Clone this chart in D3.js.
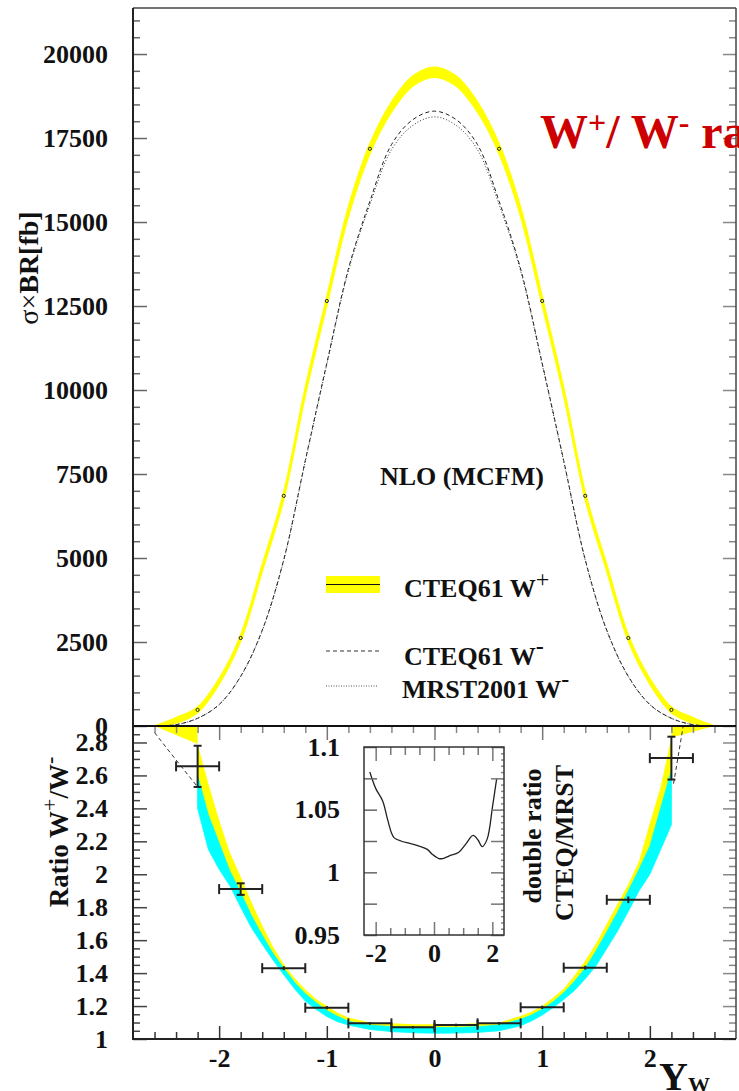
<!DOCTYPE html>
<html>
<head>
<meta charset="utf-8">
<script src="https://cdn.jsdelivr.net/npm/d3@7"></script>
<style>
body { margin: 0; background: #fff; }
text { font-family: "Liberation Serif", "Times New Roman", serif; font-weight: bold; fill: #111; }
</style>
</head>
<body>
<svg id="svg" width="739" height="1091"></svg>
<script>
// ---- top panel: d(sigma)/dy, W+ band and W- curves
const topX = [-2.6,-2.4,-2.2,-2.0,-1.8,-1.6,-1.4,-1.2,-1.0,-0.8,-0.6,-0.4,-0.2,0,0.2,0.4,0.6,0.8,1.0,1.2,1.4,1.6,1.8,2.0,2.2,2.4,2.6]
const wPlus = [0,170,480,1330,2620,4700,6850,9950,12650,15300,17180,18420,19200,19460,19200,18420,17180,15300,12650,9950,6850,4700,2620,1330,480,170,0]
const wPlusErr = [0,80,80,80,90,100,110,120,130,140,145,150,150,150,150,150,145,140,130,120,110,100,90,80,80,80,0]
const wMinusCteq = [0,40,230,640,1480,2850,4950,7900,10800,13600,15620,17300,18050,18300,18050,17300,15620,13600,10800,7900,4950,2850,1480,640,230,40,0]
const wMinusMrst = [0,40,228,636,1470,2835,4930,7870,10760,13540,15520,17150,17880,18130,17880,17150,15520,13540,10760,7870,4930,2835,1470,636,228,40,0]
const markerX = [-2.2,-1.8,-1.4,-1.0,-0.6,0.6,1.0,1.4,1.8,2.2]
const topTicks = [0,2500,5000,7500,10000,12500,15000,17500,20000]

// ---- bottom panel: W+/W- ratio bands
const ratioX = [-2.6,-2.2,-2.2,-2.1,-2.0,-1.9,-1.8,-1.7,-1.6,-1.5,-1.4,-1.3,-1.2,-1.1,-1.0,-0.9,-0.8,-0.6,-0.4,-0.2,0,0.2,0.4,0.6,0.8,0.9,1.0,1.1,1.2,1.3,1.4,1.5,1.6,1.7,1.8,1.9,2.0,2.1,2.2,2.2,2.6]
const cteqHi = [2.9,3.1,2.79,2.55,2.33,2.13,1.985,1.83,1.69,1.56,1.455,1.37,1.30,1.243,1.20,1.16,1.13,1.10,1.095,1.09,1.09,1.09,1.095,1.10,1.14,1.165,1.20,1.25,1.305,1.385,1.475,1.58,1.70,1.82,1.94,2.08,2.31,2.53,2.83,3.1,2.9]
const cteqLo = [2.9,2.79,2.5,2.28,2.14,1.99,1.86,1.72,1.61,1.505,1.41,1.33,1.255,1.20,1.156,1.125,1.098,1.073,1.062,1.056,1.053,1.053,1.058,1.068,1.10,1.125,1.165,1.21,1.26,1.32,1.40,1.49,1.60,1.715,1.84,1.97,2.085,2.29,2.5,2.83,2.9]
const mrstHi = [null,null,2.60,2.36,2.19,2.02,1.89,1.75,1.63,1.52,1.43,1.345,1.275,1.222,1.173,1.138,1.108,1.084,1.076,1.072,1.07,1.07,1.075,1.085,1.12,1.145,1.18,1.225,1.28,1.35,1.43,1.535,1.65,1.77,1.90,2.03,2.17,2.40,2.63,null,null]
const mrstLo = [null,null,2.40,2.15,2.03,1.93,1.80,1.675,1.575,1.48,1.39,1.305,1.23,1.18,1.137,1.105,1.085,1.058,1.045,1.038,1.035,1.036,1.04,1.05,1.08,1.11,1.145,1.19,1.24,1.295,1.365,1.445,1.55,1.655,1.775,1.90,2.00,2.15,2.30,null,null]
const dashLeftX = [-2.6,-2.45,-2.2]
const dashLeftY = [2.86,2.735,2.53]
const dashRightX = [2.22,2.31]
const dashRightY = [2.55,2.9]
const pointX = [-2.2,-1.8,-1.4,-1.0,-0.6,-0.2,0.2,0.6,1.0,1.4,1.8,2.2]
const pointY = [2.655,1.91,1.43,1.19,1.095,1.071,1.085,1.095,1.192,1.433,1.845,2.705]
const pointErr = [0.125,0.035,0.012,0.01,0.008,0.008,0.008,0.008,0.01,0.012,0.02,0.13]
const binHalf = 0.2
const ratioTicks = [1,1.2,1.4,1.6,1.8,2,2.2,2.4,2.6,2.8]

// ---- inset: double ratio CTEQ/MRST
const insetX = [-2.2,-2.0,-1.76,-1.59,-1.45,-1.37,-1.14,-0.8,-0.51,-0.23,-0.06,0.17,0.3,0.51,0.85,1.08,1.34,1.51,1.65,1.82,2.01,2.15]
const insetY = [1.08,1.067,1.057,1.042,1.031,1.0277,1.025,1.023,1.021,1.0183,1.0144,1.011,1.011,1.013,1.016,1.0223,1.0295,1.0258,1.0205,1.0263,1.053,1.075]
const insetYTicks = [0.95,0.975,1,1.025,1.05,1.075,1.1]
const insetYLabels = [0.95,1,1.05,1.1]
const insetXTicks = [-2,-1.5,-1,-0.5,0,0.5,1,1.5,2]
const xTicks = [-2,-1,0,1,2]

const svg = d3.select("#svg")

const x = d3.scaleLinear([-2.8, 2.8], [133, 736])
const yTop = d3.scaleLinear([0, 21370], [726, 8])
const yBot = d3.scaleLinear([1, 2.9], [1039, 726])
const xIn = d3.scaleLinear([-2.4, 2.4], [364, 504])
const yIn = d3.scaleLinear([0.95, 1.1], [935, 747])

const defs = svg.append("defs")
defs.append("clipPath").attr("id", "clipTop").append("rect").attr("x", 133).attr("y", 8).attr("width", 603).attr("height", 718)
defs.append("clipPath").attr("id", "clipBot").append("rect").attr("x", 133).attr("y", 726).attr("width", 603).attr("height", 313)

function styleAxis(g, col) {
	g.attr("font-family", "Liberation Serif, serif").attr("font-size", 26).attr("font-weight", "bold")
	g.select(".domain").remove()
	g.selectAll(".tick line").attr("stroke", col).attr("stroke-width", 1.5)
	g.selectAll(".tick text").attr("fill", "#111")
}
const fmt = d => String(d)

// ---------- top panel ----------
const topG = svg.append("g").attr("clip-path", "url(#clipTop)")
const topIdx = d3.range(topX.length)

topG.append("path")
	.attr("d", d3.area().curve(d3.curveCatmullRom)
		.x(i => x(topX[i])).y0(i => yTop(wPlus[i] - wPlusErr[i])).y1(i => yTop(wPlus[i] + wPlusErr[i]))(topIdx))
	.attr("fill", "#ffff00").attr("stroke", "#ffff00").attr("stroke-width", 1.5)

const lineTop = arr => d3.line().curve(d3.curveCatmullRom).x(i => x(topX[i])).y(i => yTop(arr[i]))(topIdx)
topG.append("path").attr("d", lineTop(wMinusCteq)).attr("fill", "none").attr("stroke", "#222").attr("stroke-width", 1).attr("stroke-dasharray", "4,3")
topG.append("path").attr("d", lineTop(wMinusMrst)).attr("fill", "none").attr("stroke", "#333").attr("stroke-width", 1).attr("stroke-dasharray", "1,2")

topG.selectAll("circle").data(markerX).join("circle")
	.attr("cx", d => x(d)).attr("cy", d => yTop(wPlus[topX.indexOf(d)]))
	.attr("r", 1.6).attr("fill", "none").attr("stroke", "#222").attr("stroke-width", 1)

// top axes
const topMinor = d3.range(500, 21370, 500).filter(v => v % 2500)
styleAxis(svg.append("g").attr("transform", "translate(133,0)")
	.call(d3.axisLeft(yTop).tickValues(topTicks).tickFormat(fmt).tickSizeInner(-14).tickSizeOuter(0).tickPadding(25)), "#666")
styleAxis(svg.append("g").attr("transform", "translate(133,0)")
	.call(d3.axisLeft(yTop).tickValues(topMinor).tickFormat("").tickSizeInner(-7).tickSizeOuter(0)), "#666")
styleAxis(svg.append("g").attr("transform", "translate(736,0)")
	.call(d3.axisRight(yTop).tickValues(topTicks).tickFormat("").tickSizeInner(-13).tickSizeOuter(0)), "#888")
styleAxis(svg.append("g").attr("transform", "translate(736,0)")
	.call(d3.axisRight(yTop).tickValues(topMinor).tickFormat("").tickSizeInner(-7).tickSizeOuter(0)), "#888")

// ---------- bottom panel ----------
const botG = svg.append("g").attr("clip-path", "url(#clipBot)")
const rIdx = d3.range(ratioX.length)
botG.append("path")
	.attr("d", d3.area().x(i => x(ratioX[i])).y0(i => yBot(cteqLo[i])).y1(i => yBot(cteqHi[i]))(rIdx))
	.attr("fill", "#ffff00")
botG.append("path")
	.attr("d", d3.area().defined(i => mrstLo[i] !== null)
		.x(i => x(ratioX[i])).y0(i => yBot(mrstLo[i])).y1(i => yBot(mrstHi[i]))(rIdx))
	.attr("fill", "#00ffff").attr("stroke", "#00ffff").attr("stroke-width", 0.8)

const dashLine = d3.line()
botG.append("path").attr("d", dashLine(dashLeftX.map((v, i) => [x(v), yBot(dashLeftY[i])])))
	.attr("fill", "none").attr("stroke", "#333").attr("stroke-width", 1).attr("stroke-dasharray", "4,3")
botG.append("path").attr("d", dashLine(dashRightX.map((v, i) => [x(v), yBot(dashRightY[i])])))
	.attr("fill", "none").attr("stroke", "#333").attr("stroke-width", 1).attr("stroke-dasharray", "4,3")

// error bars
const eb = botG.append("g").attr("stroke", "#222").attr("stroke-width", 2)
pointX.forEach((px, i) => {
	const cx = x(px), cy = yBot(pointY[i])
	const xl = x(px - binHalf), xr = x(px + binHalf)
	eb.append("line").attr("x1", xl).attr("x2", xr).attr("y1", cy).attr("y2", cy)
	eb.append("line").attr("x1", xl).attr("x2", xl).attr("y1", cy - 5).attr("y2", cy + 5)
	eb.append("line").attr("x1", xr).attr("x2", xr).attr("y1", cy - 5).attr("y2", cy + 5)
	const yu = yBot(pointY[i] + pointErr[i]), yd = yBot(pointY[i] - pointErr[i])
	eb.append("line").attr("x1", cx).attr("x2", cx).attr("y1", yu).attr("y2", yd)
	if (yd - yu > 8) {
		eb.append("line").attr("x1", cx - 4).attr("x2", cx + 4).attr("y1", yu).attr("y2", yu)
		eb.append("line").attr("x1", cx - 4).attr("x2", cx + 4).attr("y1", yd).attr("y2", yd)
	}
})

// bottom axes
const ratioMinor = d3.range(1.05, 2.9, 0.05).filter(v => Math.abs(v * 5 - Math.round(v * 5)) > 1e-6)
styleAxis(svg.append("g").attr("transform", "translate(133,0)")
	.call(d3.axisLeft(yBot).tickValues(ratioTicks).tickFormat(fmt).tickSizeInner(-14).tickSizeOuter(0).tickPadding(25)), "#444")
styleAxis(svg.append("g").attr("transform", "translate(133,0)")
	.call(d3.axisLeft(yBot).tickValues(ratioMinor).tickFormat("").tickSizeInner(-7).tickSizeOuter(0)), "#444")
styleAxis(svg.append("g").attr("transform", "translate(736,0)")
	.call(d3.axisRight(yBot).tickValues(ratioTicks).tickFormat("").tickSizeInner(-13).tickSizeOuter(0)), "#888")
styleAxis(svg.append("g").attr("transform", "translate(736,0)")
	.call(d3.axisRight(yBot).tickValues(ratioMinor).tickFormat("").tickSizeInner(-7).tickSizeOuter(0)), "#888")

const xMinor = d3.range(-2.6, 2.7, 0.2).filter(v => Math.abs(v - Math.round(v)) > 1e-6)
styleAxis(svg.append("g").attr("transform", "translate(0,1039)")
	.call(d3.axisBottom(x).tickValues(xTicks).tickFormat(fmt).tickSizeInner(-13).tickSizeOuter(0).tickPadding(9.5)), "#333")
styleAxis(svg.append("g").attr("transform", "translate(0,1039)")
	.call(d3.axisBottom(x).tickValues(xMinor).tickFormat("").tickSizeInner(-7).tickSizeOuter(0)), "#333")
styleAxis(svg.append("g").attr("transform", "translate(0,726)")
	.call(d3.axisTop(x).tickValues(xTicks).tickFormat("").tickSizeInner(-14).tickSizeOuter(0)), "#777")
styleAxis(svg.append("g").attr("transform", "translate(0,726)")
	.call(d3.axisTop(x).tickValues(xMinor).tickFormat("").tickSizeInner(-7).tickSizeOuter(0)), "#888")

// frame lines
const frame = svg.append("g")
frame.append("line").attr("x1", 133).attr("x2", 736).attr("y1", 8).attr("y2", 8).attr("stroke", "#444").attr("stroke-width", 1.5)
frame.append("line").attr("x1", 736).attr("x2", 736).attr("y1", 8).attr("y2", 1039).attr("stroke", "#444").attr("stroke-width", 1.5)
frame.append("line").attr("x1", 133).attr("x2", 133).attr("y1", 8).attr("y2", 1040).attr("stroke", "#222").attr("stroke-width", 2)
frame.append("line").attr("x1", 133).attr("x2", 736).attr("y1", 726).attr("y2", 726).attr("stroke", "#111").attr("stroke-width", 1.8)
frame.append("line").attr("x1", 132).attr("x2", 736).attr("y1", 1039).attr("y2", 1039).attr("stroke", "#222").attr("stroke-width", 2)

// ---------- inset ----------
const inset = svg.append("g")
inset.append("rect").attr("x", 364).attr("y", 747).attr("width", 140).attr("height", 188).attr("fill", "#fff")
inset.append("path")
	.attr("d", d3.line().curve(d3.curveCatmullRom).x(d => xIn(d)).y((d, i) => yIn(insetY[i]))(insetX))
	.attr("fill", "none").attr("stroke", "#222").attr("stroke-width", 1.3)
styleAxis(inset.append("g").attr("transform", "translate(364,0)")
	.call(d3.axisLeft(yIn).tickValues(insetYTicks).tickFormat(d => insetYLabels.includes(d) ? String(d) : "").tickSizeInner(-13).tickSizeOuter(0).tickPadding(24)), "#666")
styleAxis(inset.append("g").attr("transform", "translate(504,0)")
	.call(d3.axisRight(yIn).tickValues(insetYTicks).tickFormat("").tickSizeInner(-13).tickSizeOuter(0)), "#777")
styleAxis(inset.append("g").attr("transform", "translate(504,0)")
	.call(d3.axisRight(yIn).tickValues(d3.range(0.955, 1.1, 0.005)).tickFormat("").tickSizeInner(-3).tickSizeOuter(0)), "#888")
const inMajor = d => Math.abs(d) === 2 || d === 0
const inB = inset.append("g").attr("transform", "translate(0,935)")
	.call(d3.axisBottom(xIn).tickValues(insetXTicks).tickFormat(d => inMajor(d) ? String(d) : "").tickSizeInner(-7).tickSizeOuter(0).tickPadding(8.5))
styleAxis(inB, "#777")
inB.selectAll(".tick line").attr("y2", d => inMajor(d) ? -13 : -7)
const inT = inset.append("g").attr("transform", "translate(0,747)")
	.call(d3.axisTop(xIn).tickValues(insetXTicks).tickFormat("").tickSizeInner(-8).tickSizeOuter(0))
styleAxis(inT, "#777")
inT.selectAll(".tick line").attr("y2", d => inMajor(d) ? 14 : 8)
inset.append("rect").attr("x", 364).attr("y", 747).attr("width", 140).attr("height", 188)
	.attr("fill", "none").attr("stroke", "#333").attr("stroke-width", 1.5)

// ---------- texts ----------
function supText(g, parts, big, small, shift) {
	parts.forEach((p, k) => {
		const ts = g.append("tspan").text(p.t)
		if (p.sup) ts.style("font-size", small + "px").attr("dy", -shift).style("font-weight", p.w || "bold")
		else {
			ts.style("font-size", big + "px")
			if (k > 0 && parts[k - 1].sup) ts.attr("dy", shift)
		}
	})
}

// title
const title = svg.append("text").attr("x", 540).attr("y", 148).style("fill", "#cc0000")
supText(title, [{t: "W"}, {t: "+", sup: true}, {t: "/ W"}, {t: "-", sup: true}, {t: " ratio"}], 48, 32, 15)
title.selectAll("tspan").style("fill", "#cc0000")

svg.append("text").attr("x", 380).attr("y", 485).style("font-size", "26px").text("NLO (MCFM)")

// legend
svg.append("rect").attr("x", 326).attr("y", 576).attr("width", 54).attr("height", 17).attr("fill", "#ffff00")
svg.append("line").attr("x1", 326).attr("x2", 380).attr("y1", 584.5).attr("y2", 584.5).attr("stroke", "#111").attr("stroke-width", 1)
svg.append("line").attr("x1", 326).attr("x2", 380).attr("y1", 651).attr("y2", 651).attr("stroke", "#333").attr("stroke-width", 1).attr("stroke-dasharray", "4,3")
svg.append("line").attr("x1", 326).attr("x2", 378).attr("y1", 686).attr("y2", 686).attr("stroke", "#555").attr("stroke-width", 1).attr("stroke-dasharray", "1,1.5")
supText(svg.append("text").attr("x", 404).attr("y", 597), [{t: "CTEQ61 W"}, {t: "+", sup: true, w: "normal"}], 26, 24, 10)
supText(svg.append("text").attr("x", 404).attr("y", 665), [{t: "CTEQ61 W"}, {t: "-", sup: true}], 26, 24, 11)
supText(svg.append("text").attr("x", 402).attr("y", 698), [{t: "MRST2001 W"}, {t: "-", sup: true}], 26, 24, 11)

// axis titles
const yt = svg.append("text").attr("transform", "translate(38,268) rotate(-90)").attr("text-anchor", "middle").style("font-size", "28px")
yt.append("tspan").text("σ×").style("font-weight", "normal")
yt.append("tspan").text("BR[fb]")

const rt = svg.append("text").attr("transform", "translate(68,832) rotate(-90)").attr("text-anchor", "middle")
supText(rt, [{t: "Ratio W"}, {t: "+", sup: true, w: "normal"}, {t: "/W"}, {t: "-", sup: true}], 27, 22, 11)

svg.append("text").attr("transform", "translate(541,836) rotate(-90)").attr("text-anchor", "middle").style("font-size", "26px").text("double ratio")
svg.append("text").attr("transform", "translate(573,843) rotate(-90)").attr("text-anchor", "middle").style("font-size", "26px").text("CTEQ/MRST")

const yw = svg.append("text").attr("x", 659).attr("y", 1090)
yw.append("tspan").text("Y").style("font-size", "40px")
yw.append("tspan").text("W").style("font-size", "22px").attr("dy", 2)
</script>
</body>
</html>
